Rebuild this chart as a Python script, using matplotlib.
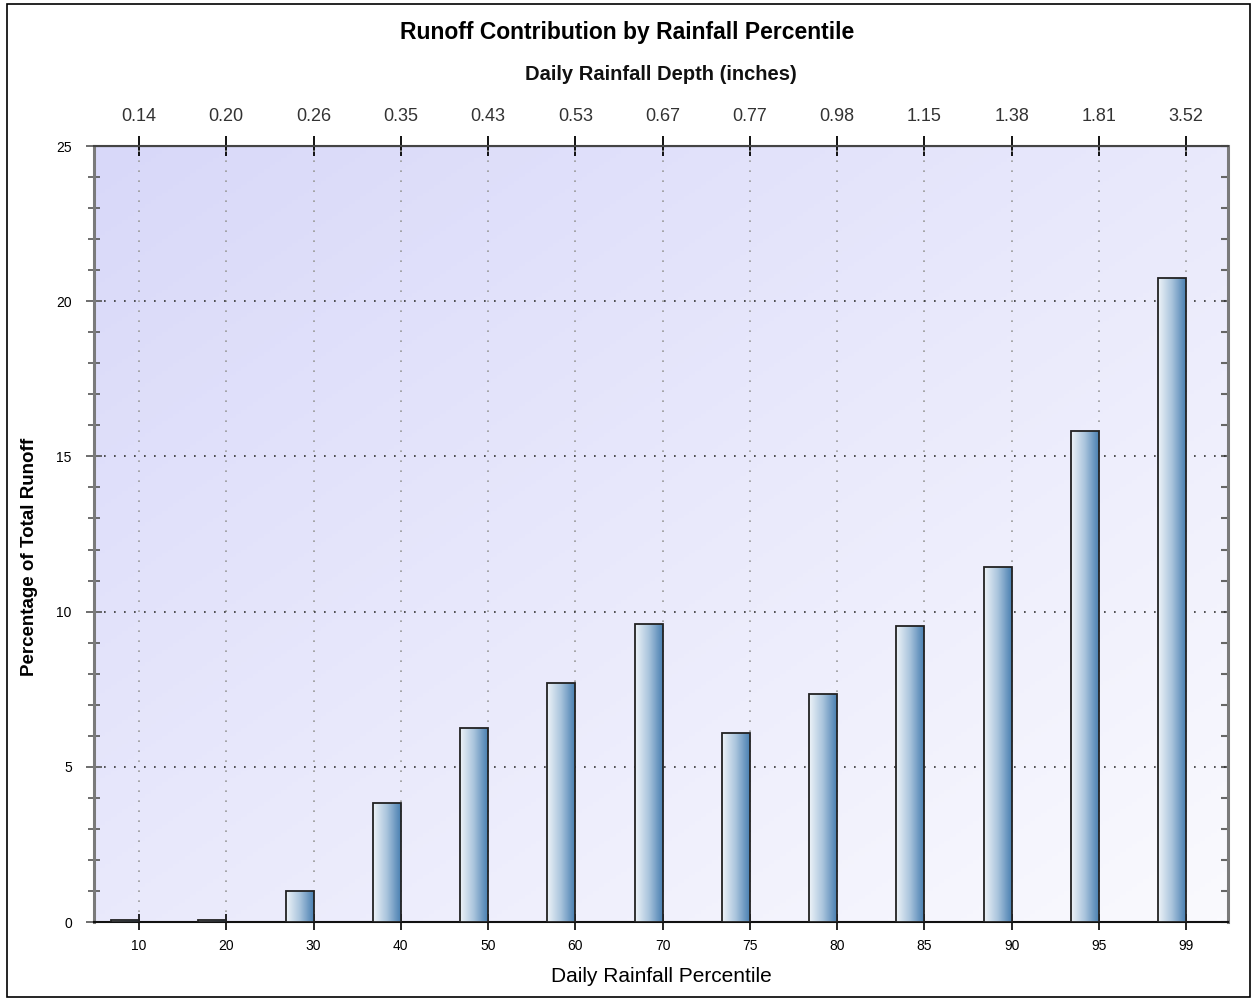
import numpy as np
import matplotlib
matplotlib.use("Agg")
import matplotlib.pyplot as plt
from matplotlib.colors import LinearSegmentedColormap
from matplotlib.patches import Rectangle
from matplotlib.ticker import MultipleLocator

plt.rcParams['font.family'] = ['Liberation Sans', 'DejaVu Sans']

# data
percentiles = ['10', '20', '30', '40', '50', '60', '70', '75', '80', '85', '90', '95', '99']
depths = ['0.14', '0.20', '0.26', '0.35', '0.43', '0.53', '0.67', '0.77', '0.98', '1.15', '1.38', '1.81', '3.52']
runoff_pct = [0.06, 0.06, 1.0, 3.83, 6.25, 7.7, 9.6, 6.1, 7.35, 9.55, 11.45, 15.82, 20.75]

fig = plt.figure(figsize=(12.55, 10.01), dpi=100)
ax = fig.add_axes([94 / 1255, 1 - 922 / 1001, (1228 - 94) / 1255, (922 - 146) / 1001])

xpos = np.arange(len(percentiles))

# background gradient, lavender top-left to white bottom-right
gx, gy = np.meshgrid(np.linspace(0, 1, 200), np.linspace(0, 1, 200))
g = (gx + gy) / 2
bg_cmap = LinearSegmentedColormap.from_list('bg', ['#d8d8f9', '#fafafe'])
ax.imshow(g, cmap=bg_cmap, extent=[0, 1, 0, 1], transform=ax.transAxes,
          aspect='auto', origin='upper', zorder=0)

# grid
for x in xpos:
    ax.axvline(x, color='#9a9a9a', linestyle=(0, (1, 5)), linewidth=1.2, zorder=1)
for y in [5, 10, 15, 20]:
    ax.axhline(y, color='#333333', linestyle=(0, (1, 5)), linewidth=1.2, zorder=1)

# gradient bars, right edge on the tick
bar_cmap = LinearSegmentedColormap.from_list('bar', ['#eef3f8', '#a9c4dc', '#4a80b2'])
grad = np.linspace(0, 1, 64).reshape(1, -1)
bw = 0.32
bars = ax.bar(xpos - bw, runoff_pct, width=bw, align='edge', facecolor='none',
              edgecolor='#222222', linewidth=1.3, zorder=4)
for b in bars:
    x0, h = b.get_x(), b.get_height()
    im = ax.imshow(grad, cmap=bar_cmap, extent=[x0, x0 + bw, 0, h], aspect='auto', zorder=3)
    im.set_clip_path(Rectangle((x0, 0), bw, h, transform=ax.transData))
ax.set_xlim(-0.516, len(percentiles) - 1 + 0.48)
ax.set_ylim(0, 25)

# bottom axis
ax.set_xticks(xpos)
ax.set_xticklabels(percentiles, fontsize=10)
ax.set_xlabel('Daily Rainfall Percentile', fontsize=15, labelpad=10)
ax.tick_params(axis='x', direction='inout', length=12, width=1.2, pad=6)

# left axis
ax.yaxis.set_major_locator(MultipleLocator(5))
ax.yaxis.set_minor_locator(MultipleLocator(1))
ax.tick_params(axis='y', which='major', direction='inout', length=12, width=1.2,
               labelsize=10, pad=10, color='#555555')
ax.tick_params(axis='y', which='minor', direction='inout', length=9, width=1.2,
               color='#555555')
ax.set_ylabel('Percentage of Total Runoff', fontsize=13.5, fontweight='bold')
ax.yaxis.set_label_coords(-0.049, 0.47)

# right side: short inward ticks only
rgt = ax.secondary_yaxis('right')
rgt.yaxis.set_major_locator(MultipleLocator(5))
rgt.yaxis.set_minor_locator(MultipleLocator(1))
rgt.tick_params(which='both', direction='in', length=5, width=1.5, color='#666666', labelright=False)
rgt.spines['right'].set_visible(False)

for s in ['left', 'right']:
    ax.spines[s].set_color('#7a7a7a')
    ax.spines[s].set_linewidth(2.2)
ax.spines['bottom'].set_color('#111111')
ax.spines['bottom'].set_linewidth(1.5)
ax.spines['top'].set_color('#444444')
ax.spines['top'].set_linewidth(1.5)

# top axis with rainfall depths
top = ax.secondary_xaxis('top')
top.set_xticks(xpos)
top.set_xticklabels(depths, fontsize=13, color='#333333')
top.tick_params(direction='inout', length=14, width=1.3, pad=8)
fig.text((94 + 1228) / 2 / 1255, 1 - 75 / 1001, 'Daily Rainfall Depth (inches)', fontsize=14.5,
         fontweight='bold', color='#111111', ha='center', va='center')

fig.suptitle('Runoff Contribution by Rainfall Percentile', fontsize=16.5, fontweight='bold',
             y=1 - 32 / 1001, va='center')

# outer frame
fig.patches.append(Rectangle((7 / 1255, 4 / 1001), 1243 / 1255, 993 / 1001, transform=fig.transFigure,
                             fill=False, edgecolor='black', linewidth=1.2))

fig.savefig('out.png', dpi=100)
